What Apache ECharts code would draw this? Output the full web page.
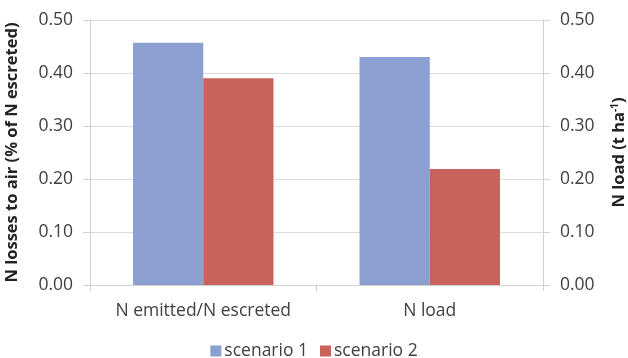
<!DOCTYPE html>
<html><head><meta charset="utf-8">
<script src="https://cdn.jsdelivr.net/npm/echarts@6/dist/echarts.min.js"></script>
<style>html,body{margin:0;padding:0;background:#fff}#c{width:628px;height:358px}</style>
</head><body><div id="c"></div>
<script>
const categories = ['N emitted/N escreted', 'N load'];
const scenario1 = [0.457, 0.430];
const scenario2 = [0.390, 0.219];
const seriesNames = ['scenario 1', 'scenario 2'];
const tickFont = 'Open Sans';
const chart = echarts.init(document.getElementById('c'));
const axisCommon = {
  type: 'value', min: 0, max: 0.5, interval: 0.1,
  axisLine: {show: true, lineStyle: {color: '#d4cfcf'}},
  axisTick: {show: true, length: 7, lineStyle: {color: '#d4cfcf'}},
  splitLine: {show: true, lineStyle: {color: '#dedada'}},
  axisLabel: {color: '#404040', fontSize: 17.5, fontFamily: tickFont, margin: 17, formatter: v => v.toFixed(2)},
  nameLocation: 'middle', nameRotate: 90,
  nameTextStyle: {color: '#222', fontSize: 16.5, fontWeight: 'bold', fontFamily: tickFont}
};
chart.setOption({
  animation: false,
  grid: {left: 90, right: 85, top: 20, bottom: 73, containLabel: false, outerBoundsMode: 'none'},
  legend: {
    bottom: -7, left: 'center', itemWidth: 11, itemHeight: 11, itemGap: 12,
    icon: 'rect',
    textStyle: {color: '#404040', fontSize: 17.5, fontFamily: tickFont, padding: [0,0,0,-2]},
    data: seriesNames
  },
  xAxis: {
    type: 'category', data: categories,
    axisLine: {lineStyle: {color: '#d4cfcf'}},
    axisTick: {show: true, length: 6, lineStyle: {color: '#d4cfcf'}},
    axisLabel: {color: '#404040', fontSize: 17.5, fontFamily: tickFont, margin: 17, interval: 0, hideOverlap: false}
  },
  yAxis: [
    Object.assign({}, axisCommon, {position: 'left', name: 'N losses to air (% of N escreted)', nameGap: 69}),
    Object.assign({}, axisCommon, {position: 'right', name: '{a|N load (t ha}{s|-1}{a|)}', nameGap: 67,
      splitLine: {show: false},
      nameTextStyle: {rich: {
        a: {color: '#222', fontSize: 16.5, fontWeight: 'bold', fontFamily: tickFont},
        s: {color: '#222', fontSize: 10, fontWeight: 'bold', fontFamily: tickFont, verticalAlign: 'top', padding: [0,0,8,0]}
      }}})
  ],
  series: [
    {name: seriesNames[0], type: 'bar', data: scenario1, barGap: '0%', barCategoryGap: '38%', itemStyle: {color: '#8b9fd0'}},
    {name: seriesNames[1], type: 'bar', data: scenario2, itemStyle: {color: '#c9625a'}}
  ]
});
</script></body></html>
